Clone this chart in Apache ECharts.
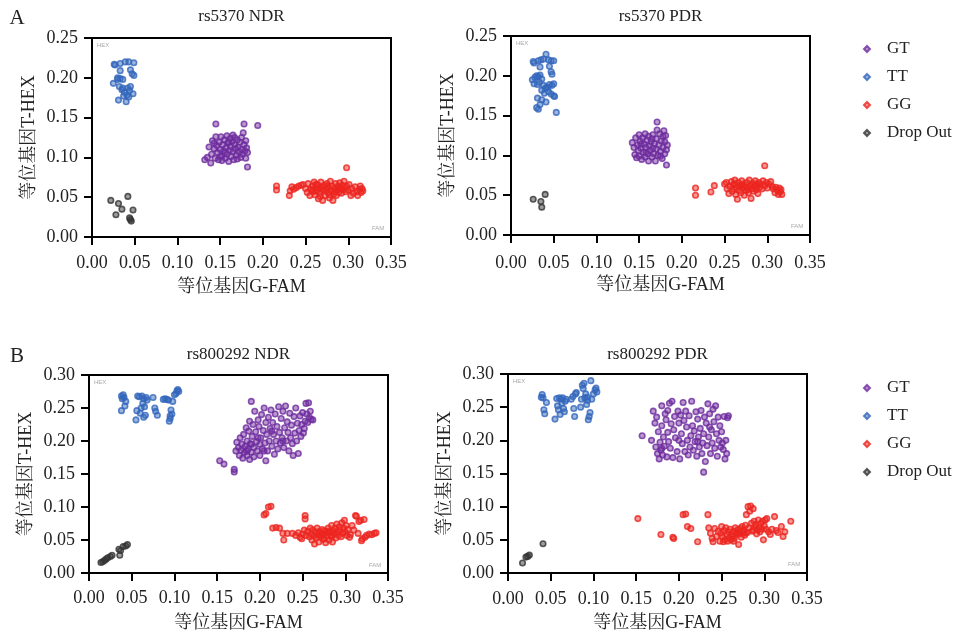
<!DOCTYPE html>
<html>
<head>
<meta charset="utf-8">
<script src="https://cdn.jsdelivr.net/npm/echarts@6/dist/echarts.min.js"></script>
<style>
html, body { margin: 0; padding: 0; background: #fff; }
#main { width: 958px; height: 633px; }
</style>
</head>
<body>
<div id="main"></div>
<script>
var seriesNames = ['GT', 'TT', 'GG', 'Drop Out'];
var seriesColors = ['#6e2c9e', '#3366bb', '#ec2620', '#333333'];
var xTicks = [0, 0.05, 0.10, 0.15, 0.20, 0.25, 0.30, 0.35];
var yTicksA = [0, 0.05, 0.10, 0.15, 0.20, 0.25];
var yTicksB = [0, 0.05, 0.10, 0.15, 0.20, 0.25, 0.30];
var panelTitles = ['rs5370 NDR', 'rs5370 PDR', 'rs800292 NDR', 'rs800292 PDR'];
var xName = '等位基因G-FAM';
var yName = '等位基因T-HEX';

// rs5370 NDR
var a1GT = [[0.132,0.097],[0.135,0.100],[0.137,0.113],[0.139,0.093],[0.140,0.104],[0.141,0.121],[0.143,0.111],[0.144,0.099],[0.145,0.142],[0.145,0.126],[0.146,0.115],[0.147,0.106],[0.148,0.097],[0.149,0.119],[0.150,0.110],[0.151,0.126],[0.152,0.102],[0.152,0.096],[0.153,0.116],[0.154,0.108],[0.155,0.122],[0.156,0.099],[0.157,0.112],[0.158,0.127],[0.158,0.104],[0.159,0.118],[0.160,0.095],[0.161,0.109],[0.162,0.124],[0.162,0.114],[0.163,0.101],[0.164,0.120],[0.165,0.107],[0.165,0.128],[0.166,0.097],[0.167,0.116],[0.168,0.111],[0.169,0.103],[0.170,0.122],[0.170,0.098],[0.171,0.113],[0.172,0.107],[0.173,0.119],[0.174,0.100],[0.175,0.125],[0.175,0.110],[0.176,0.104],[0.177,0.131],[0.178,0.142],[0.178,0.116],[0.179,0.108],[0.180,0.121],[0.180,0.099],[0.181,0.112],[0.182,0.088],[0.182,0.106],[0.194,0.140],[0.160,0.119],[0.156,0.106],[0.167,0.125],[0.150,0.101],[0.143,0.118]];
var a1TT = [[0.026,0.217],[0.027,0.216],[0.033,0.218],[0.039,0.220],[0.043,0.220],[0.049,0.219],[0.033,0.209],[0.045,0.210],[0.047,0.205],[0.049,0.203],[0.025,0.193],[0.030,0.200],[0.033,0.199],[0.036,0.198],[0.032,0.189],[0.036,0.187],[0.042,0.187],[0.045,0.189],[0.038,0.182],[0.041,0.178],[0.037,0.177],[0.043,0.176],[0.048,0.180],[0.031,0.172],[0.040,0.170],[0.035,0.185],[0.044,0.184],[0.030,0.198]];
var a1GG = [[0.216,0.064],[0.216,0.059],[0.231,0.052],[0.232,0.058],[0.234,0.063],[0.236,0.060],[0.239,0.062],[0.242,0.064],[0.245,0.065],[0.247,0.066],[0.250,0.061],[0.252,0.056],[0.253,0.067],[0.255,0.052],[0.256,0.060],[0.258,0.064],[0.259,0.057],[0.260,0.069],[0.261,0.053],[0.262,0.062],[0.263,0.058],[0.264,0.066],[0.265,0.048],[0.266,0.061],[0.267,0.055],[0.268,0.069],[0.269,0.063],[0.270,0.046],[0.271,0.058],[0.272,0.065],[0.273,0.052],[0.274,0.060],[0.275,0.067],[0.276,0.056],[0.277,0.062],[0.278,0.049],[0.279,0.070],[0.280,0.058],[0.281,0.064],[0.282,0.046],[0.283,0.054],[0.284,0.061],[0.285,0.067],[0.286,0.052],[0.287,0.059],[0.288,0.064],[0.289,0.056],[0.290,0.068],[0.291,0.061],[0.292,0.055],[0.293,0.065],[0.294,0.059],[0.295,0.070],[0.296,0.062],[0.297,0.057],[0.298,0.087],[0.298,0.064],[0.300,0.059],[0.301,0.066],[0.303,0.052],[0.304,0.061],[0.306,0.055],[0.308,0.063],[0.310,0.057],[0.311,0.052],[0.313,0.060],[0.314,0.064],[0.315,0.056],[0.316,0.061],[0.317,0.058],[0.262,0.066],[0.270,0.060],[0.276,0.064],[0.284,0.057],[0.258,0.059],[0.267,0.051],[0.289,0.062],[0.278,0.053]];
var a1Drop = [[0.022,0.046],[0.031,0.042],[0.035,0.035],[0.028,0.028],[0.042,0.051],[0.048,0.034],[0.044,0.024],[0.046,0.020],[0.045,0.022]];

// rs5370 PDR
var a2GT = [[0.142,0.116],[0.144,0.110],[0.145,0.101],[0.146,0.122],[0.147,0.097],[0.148,0.113],[0.149,0.106],[0.150,0.126],[0.150,0.099],[0.151,0.118],[0.152,0.109],[0.153,0.095],[0.154,0.122],[0.155,0.104],[0.156,0.114],[0.157,0.127],[0.157,0.098],[0.158,0.110],[0.159,0.119],[0.160,0.102],[0.161,0.093],[0.161,0.124],[0.162,0.112],[0.163,0.106],[0.164,0.117],[0.165,0.098],[0.166,0.109],[0.166,0.126],[0.167,0.102],[0.168,0.115],[0.169,0.093],[0.170,0.121],[0.170,0.108],[0.171,0.142],[0.171,0.132],[0.172,0.100],[0.173,0.113],[0.174,0.127],[0.175,0.105],[0.176,0.118],[0.177,0.096],[0.178,0.124],[0.178,0.110],[0.179,0.131],[0.180,0.102],[0.180,0.117],[0.181,0.125],[0.182,0.107],[0.182,0.088],[0.183,0.113],[0.165,0.121],[0.158,0.104],[0.152,0.114],[0.175,0.099]];
var a2TT = [[0.026,0.218],[0.027,0.216],[0.032,0.219],[0.035,0.220],[0.038,0.221],[0.041,0.227],[0.044,0.220],[0.047,0.219],[0.050,0.219],[0.034,0.211],[0.045,0.212],[0.047,0.205],[0.048,0.202],[0.025,0.195],[0.028,0.198],[0.030,0.200],[0.032,0.199],[0.034,0.201],[0.036,0.196],[0.027,0.190],[0.031,0.189],[0.033,0.192],[0.038,0.188],[0.040,0.184],[0.042,0.186],[0.045,0.189],[0.048,0.188],[0.050,0.190],[0.036,0.182],[0.039,0.178],[0.044,0.180],[0.047,0.177],[0.050,0.175],[0.051,0.174],[0.031,0.172],[0.036,0.170],[0.041,0.167],[0.034,0.164],[0.030,0.160],[0.032,0.158],[0.053,0.154],[0.043,0.185]];
var a2GG = [[0.216,0.059],[0.216,0.050],[0.234,0.054],[0.238,0.062],[0.250,0.064],[0.252,0.066],[0.253,0.058],[0.255,0.052],[0.256,0.061],[0.258,0.067],[0.259,0.055],[0.260,0.063],[0.261,0.058],[0.262,0.069],[0.263,0.051],[0.264,0.060],[0.265,0.045],[0.266,0.066],[0.267,0.056],[0.268,0.062],[0.269,0.053],[0.270,0.068],[0.271,0.059],[0.272,0.064],[0.273,0.050],[0.274,0.061],[0.275,0.056],[0.276,0.066],[0.277,0.060],[0.278,0.053],[0.279,0.069],[0.280,0.062],[0.281,0.046],[0.282,0.058],[0.283,0.065],[0.284,0.055],[0.285,0.062],[0.286,0.068],[0.287,0.057],[0.288,0.063],[0.289,0.052],[0.290,0.066],[0.291,0.060],[0.292,0.064],[0.294,0.058],[0.295,0.068],[0.297,0.087],[0.297,0.062],[0.299,0.066],[0.300,0.059],[0.302,0.064],[0.304,0.067],[0.306,0.061],[0.307,0.058],[0.309,0.053],[0.310,0.060],[0.312,0.056],[0.313,0.051],[0.314,0.059],[0.315,0.054],[0.316,0.057],[0.317,0.051],[0.270,0.062],[0.277,0.057],[0.286,0.060],[0.262,0.064]];
var a2Drop = [[0.026,0.045],[0.035,0.042],[0.036,0.035],[0.040,0.051]];

// rs800292 NDR
var b1GT = [[0.153,0.170],[0.158,0.165],[0.170,0.157],[0.170,0.153],[0.172,0.185],[0.173,0.198],[0.175,0.190],[0.176,0.178],[0.177,0.205],[0.178,0.186],[0.179,0.195],[0.180,0.174],[0.181,0.210],[0.182,0.183],[0.183,0.192],[0.184,0.220],[0.185,0.178],[0.185,0.200],[0.186,0.188],[0.187,0.215],[0.188,0.172],[0.188,0.230],[0.189,0.196],[0.190,0.183],[0.190,0.260],[0.191,0.207],[0.192,0.225],[0.193,0.190],[0.193,0.176],[0.194,0.245],[0.195,0.214],[0.196,0.199],[0.197,0.185],[0.198,0.232],[0.199,0.222],[0.200,0.178],[0.200,0.195],[0.201,0.205],[0.202,0.240],[0.203,0.188],[0.204,0.216],[0.205,0.250],[0.206,0.197],[0.207,0.170],[0.207,0.228],[0.208,0.210],[0.209,0.185],[0.210,0.236],[0.211,0.200],[0.212,0.219],[0.213,0.247],[0.214,0.192],[0.215,0.228],[0.216,0.210],[0.217,0.180],[0.218,0.241],[0.219,0.200],[0.220,0.222],[0.221,0.188],[0.222,0.252],[0.223,0.213],[0.224,0.197],[0.225,0.234],[0.226,0.205],[0.227,0.245],[0.228,0.190],[0.229,0.220],[0.230,0.253],[0.231,0.200],[0.232,0.229],[0.233,0.213],[0.234,0.185],[0.235,0.242],[0.236,0.205],[0.237,0.224],[0.238,0.196],[0.239,0.178],[0.240,0.237],[0.241,0.212],[0.242,0.250],[0.243,0.200],[0.244,0.227],[0.245,0.181],[0.246,0.216],[0.247,0.238],[0.248,0.207],[0.249,0.225],[0.250,0.243],[0.251,0.212],[0.252,0.219],[0.253,0.230],[0.254,0.257],[0.255,0.241],[0.256,0.228],[0.257,0.258],[0.258,0.236],[0.259,0.245],[0.260,0.233],[0.262,0.232],[0.198,0.205],[0.190,0.195],[0.214,0.215],[0.227,0.200],[0.185,0.185],[0.205,0.185]];
var b1TT = [[0.038,0.268],[0.039,0.264],[0.040,0.270],[0.041,0.266],[0.038,0.246],[0.042,0.253],[0.043,0.260],[0.055,0.232],[0.056,0.246],[0.057,0.268],[0.059,0.267],[0.060,0.242],[0.061,0.250],[0.062,0.268],[0.063,0.257],[0.064,0.264],[0.064,0.236],[0.065,0.252],[0.066,0.239],[0.067,0.266],[0.068,0.262],[0.075,0.266],[0.077,0.250],[0.078,0.245],[0.080,0.239],[0.087,0.263],[0.089,0.264],[0.091,0.263],[0.093,0.262],[0.094,0.230],[0.095,0.238],[0.095,0.234],[0.096,0.247],[0.097,0.241],[0.098,0.260],[0.100,0.270],[0.102,0.272],[0.103,0.276],[0.104,0.278],[0.105,0.275]];
var b1GG = [[0.205,0.088],[0.207,0.090],[0.210,0.100],[0.213,0.101],[0.215,0.068],[0.219,0.069],[0.223,0.068],[0.227,0.060],[0.228,0.050],[0.232,0.060],[0.238,0.060],[0.242,0.057],[0.245,0.061],[0.247,0.054],[0.249,0.052],[0.250,0.059],[0.252,0.065],[0.253,0.087],[0.253,0.082],[0.254,0.057],[0.256,0.063],[0.258,0.055],[0.259,0.068],[0.260,0.059],[0.261,0.050],[0.262,0.065],[0.263,0.056],[0.264,0.044],[0.265,0.062],[0.266,0.053],[0.267,0.068],[0.268,0.058],[0.269,0.047],[0.270,0.063],[0.271,0.055],[0.272,0.060],[0.273,0.066],[0.274,0.051],[0.275,0.058],[0.276,0.064],[0.277,0.046],[0.278,0.061],[0.279,0.056],[0.280,0.068],[0.281,0.050],[0.282,0.062],[0.283,0.057],[0.284,0.072],[0.285,0.047],[0.286,0.064],[0.287,0.059],[0.288,0.068],[0.289,0.053],[0.290,0.074],[0.291,0.062],[0.292,0.057],[0.293,0.070],[0.294,0.065],[0.295,0.055],[0.296,0.076],[0.297,0.060],[0.298,0.068],[0.299,0.080],[0.300,0.062],[0.301,0.072],[0.302,0.057],[0.303,0.066],[0.305,0.054],[0.306,0.058],[0.308,0.072],[0.310,0.065],[0.312,0.087],[0.313,0.086],[0.315,0.060],[0.316,0.078],[0.318,0.080],[0.319,0.049],[0.320,0.052],[0.322,0.081],[0.323,0.054],[0.325,0.057],[0.328,0.059],[0.331,0.058],[0.334,0.060],[0.336,0.061],[0.270,0.058],[0.280,0.063],[0.288,0.061],[0.275,0.052],[0.284,0.055]];
var b1Drop = [[0.014,0.016],[0.016,0.017],[0.018,0.019],[0.020,0.021],[0.022,0.023],[0.025,0.025],[0.027,0.027],[0.035,0.036],[0.036,0.027],[0.037,0.034],[0.040,0.040],[0.043,0.041],[0.045,0.043]];

// rs800292 PDR
var b2GT = [[0.157,0.207],[0.168,0.200],[0.170,0.244],[0.172,0.226],[0.173,0.190],[0.174,0.235],[0.175,0.180],[0.176,0.213],[0.177,0.172],[0.178,0.197],[0.179,0.185],[0.180,0.252],[0.180,0.222],[0.181,0.178],[0.182,0.205],[0.183,0.191],[0.184,0.240],[0.185,0.231],[0.186,0.175],[0.187,0.212],[0.188,0.198],[0.189,0.256],[0.190,0.188],[0.191,0.225],[0.192,0.259],[0.193,0.174],[0.194,0.216],[0.195,0.236],[0.196,0.204],[0.198,0.183],[0.199,0.244],[0.200,0.226],[0.201,0.172],[0.202,0.238],[0.203,0.210],[0.204,0.195],[0.205,0.257],[0.206,0.230],[0.207,0.183],[0.208,0.244],[0.209,0.220],[0.210,0.200],[0.211,0.178],[0.212,0.237],[0.213,0.190],[0.214,0.207],[0.215,0.259],[0.216,0.222],[0.217,0.185],[0.218,0.214],[0.219,0.198],[0.220,0.243],[0.221,0.176],[0.222,0.232],[0.223,0.205],[0.224,0.190],[0.225,0.218],[0.226,0.245],[0.227,0.180],[0.228,0.196],[0.229,0.152],[0.229,0.210],[0.230,0.235],[0.231,0.168],[0.232,0.226],[0.233,0.192],[0.234,0.255],[0.235,0.205],[0.236,0.240],[0.237,0.180],[0.238,0.216],[0.239,0.196],[0.240,0.247],[0.241,0.228],[0.242,0.188],[0.243,0.252],[0.244,0.210],[0.245,0.176],[0.246,0.235],[0.247,0.200],[0.248,0.222],[0.249,0.190],[0.250,0.213],[0.251,0.196],[0.252,0.186],[0.253,0.236],[0.254,0.172],[0.255,0.200],[0.256,0.180],[0.257,0.234],[0.258,0.237],[0.187,0.245],[0.200,0.200],[0.222,0.198],[0.236,0.220],[0.180,0.188]];
var b2TT = [[0.039,0.265],[0.040,0.269],[0.041,0.264],[0.042,0.246],[0.043,0.240],[0.045,0.257],[0.055,0.232],[0.057,0.263],[0.058,0.252],[0.059,0.246],[0.060,0.264],[0.061,0.239],[0.062,0.262],[0.063,0.256],[0.064,0.264],[0.065,0.248],[0.066,0.243],[0.067,0.259],[0.068,0.262],[0.074,0.262],[0.076,0.266],[0.077,0.248],[0.078,0.236],[0.079,0.270],[0.080,0.272],[0.085,0.250],[0.086,0.262],[0.087,0.283],[0.088,0.278],[0.089,0.286],[0.090,0.264],[0.091,0.270],[0.092,0.254],[0.093,0.265],[0.094,0.231],[0.095,0.236],[0.096,0.242],[0.097,0.290],[0.098,0.262],[0.100,0.270],[0.102,0.276],[0.103,0.279],[0.104,0.273],[0.093,0.260]];
var b2GG = [[0.152,0.082],[0.179,0.058],[0.193,0.054],[0.194,0.052],[0.205,0.088],[0.208,0.089],[0.210,0.070],[0.214,0.067],[0.222,0.047],[0.234,0.088],[0.235,0.068],[0.237,0.060],[0.239,0.052],[0.240,0.047],[0.242,0.067],[0.244,0.055],[0.246,0.063],[0.248,0.048],[0.249,0.060],[0.250,0.070],[0.251,0.055],[0.252,0.047],[0.253,0.064],[0.254,0.050],[0.255,0.068],[0.256,0.058],[0.257,0.048],[0.258,0.062],[0.259,0.053],[0.260,0.066],[0.261,0.050],[0.262,0.058],[0.263,0.055],[0.264,0.063],[0.265,0.052],[0.266,0.068],[0.267,0.058],[0.268,0.061],[0.269,0.065],[0.270,0.043],[0.271,0.059],[0.272,0.067],[0.273,0.054],[0.274,0.070],[0.275,0.062],[0.276,0.065],[0.277,0.057],[0.278,0.072],[0.279,0.088],[0.280,0.061],[0.281,0.100],[0.282,0.068],[0.283,0.093],[0.284,0.101],[0.285,0.075],[0.286,0.063],[0.287,0.097],[0.288,0.078],[0.289,0.069],[0.290,0.073],[0.291,0.059],[0.292,0.065],[0.293,0.080],[0.294,0.069],[0.295,0.062],[0.296,0.075],[0.297,0.066],[0.298,0.078],[0.299,0.050],[0.300,0.071],[0.301,0.080],[0.302,0.066],[0.303,0.082],[0.305,0.062],[0.307,0.058],[0.309,0.066],[0.312,0.085],[0.314,0.064],[0.316,0.061],[0.320,0.070],[0.322,0.055],[0.324,0.062],[0.331,0.078],[0.270,0.060],[0.278,0.060],[0.264,0.048],[0.287,0.065]];
var b2Drop = [[0.017,0.015],[0.021,0.024],[0.023,0.025],[0.025,0.027],[0.041,0.044]];

var serif = "'Liberation Serif', 'Noto Serif CJK SC', 'Noto Sans CJK SC', serif";

// grid boxes: left, top, width, height
var panels = [
	{ box: [92, 38, 299, 199], yTicks: yTicksA, data: [a1GT, a1TT, a1GG, a1Drop], labelGap: 17, titleY: 17 },
	{ box: [511, 36, 299, 199], yTicks: yTicksA, data: [a2GT, a2TT, a2GG, a2Drop], labelGap: 19, titleY: 17 },
	{ box: [89, 375, 299, 199], yTicks: yTicksB, data: [b1GT, b1TT, b1GG, b1Drop], labelGap: 16, titleY: 355 },
	{ box: [508, 374, 299, 199], yTicks: yTicksB, data: [b2GT, b2TT, b2GG, b2Drop], labelGap: 17, titleY: 355 }
];

function fmt(v) {
	return v.toFixed(2);
}

var grids = [], xAxes = [], yAxes = [], series = [], graphics = [];
panels.forEach(function(p, i) {
	var b = p.box;
	grids.push({
		left: b[0], top: b[1], width: b[2], height: b[3],
		show: true, borderColor: '#000', borderWidth: 2, backgroundColor: '#fff'
	});
	xAxes.push({
		gridIndex: i, type: 'value', min: 0, max: 0.35, interval: 0.05,
		name: xName, nameLocation: 'middle', nameGap: 41,
		nameTextStyle: { fontFamily: serif, fontSize: 18, color: '#222' },
		axisLine: { lineStyle: { color: '#000', width: 2 } },
		axisTick: { length: 8, lineStyle: { color: '#000', width: 2 }, customValues: xTicks },
		axisLabel: { fontFamily: serif, fontSize: 18, color: '#222', margin: p.labelGap, formatter: fmt, customValues: xTicks },
		splitLine: { show: false }
	});
	yAxes.push({
		gridIndex: i, type: 'value', min: 0, max: p.yTicks[p.yTicks.length - 1], interval: 0.05,
		name: yName, nameLocation: 'middle', nameGap: 54,
		nameTextStyle: { fontFamily: serif, fontSize: 18, color: '#222' },
		axisLine: { lineStyle: { color: '#000', width: 2 } },
		axisTick: { length: 8, lineStyle: { color: '#000', width: 2 }, customValues: p.yTicks },
		axisLabel: { fontFamily: serif, fontSize: 18, color: '#222', margin: 14, formatter: fmt, customValues: p.yTicks },
		splitLine: { show: false }
	});
	p.data.forEach(function(d, k) {
		series.push({
			name: seriesNames[k], type: 'scatter', xAxisIndex: i, yAxisIndex: i,
			data: d, symbol: 'circle', symbolSize: 5.5,
			itemStyle: { color: echarts.color.modifyAlpha(seriesColors[k], 0.6), borderColor: seriesColors[k], borderWidth: 1.6 },
			emphasis: { disabled: true }
		});
	});
	graphics.push({
		type: 'text', x: b[0] + b[2] / 2, y: p.titleY,
		style: { text: panelTitles[i], font: '17px ' + serif, fill: '#222', textAlign: 'center', textVerticalAlign: 'middle' }
	});
	graphics.push({
		type: 'text', left: b[0] + 5, top: b[1] + 4,
		style: { text: 'HEX', font: '6px sans-serif', fill: '#aaa' }
	});
	graphics.push({
		type: 'text', left: b[0] + b[2] - 19, top: b[1] + b[3] - 12,
		style: { text: 'FAM', font: '6px sans-serif', fill: '#aaa' }
	});
});
graphics.push({ type: 'text', x: 17, y: 18, style: { text: 'A', font: '21px ' + serif, fill: '#222', textAlign: 'center', textVerticalAlign: 'middle' } });
graphics.push({ type: 'text', x: 17, y: 356, style: { text: 'B', font: '21px ' + serif, fill: '#222', textAlign: 'center', textVerticalAlign: 'middle' } });

function legendAt(top) {
	return {
		data: seriesNames, orient: 'vertical', left: 858, top: top,
		icon: 'diamond', itemWidth: 6, itemHeight: 6, itemGap: 10,
		textStyle: { fontFamily: serif, fontSize: 17, color: '#222', lineHeight: 18, padding: [0, 0, 0, 12] }
	};
}

var chart = echarts.init(document.getElementById('main'));
chart.setOption({
	animation: false,
	backgroundColor: '#fff',
	legend: [legendAt(35), legendAt(374)],
	grid: grids,
	xAxis: xAxes,
	yAxis: yAxes,
	series: series,
	graphic: graphics
});
</script>
</body>
</html>
